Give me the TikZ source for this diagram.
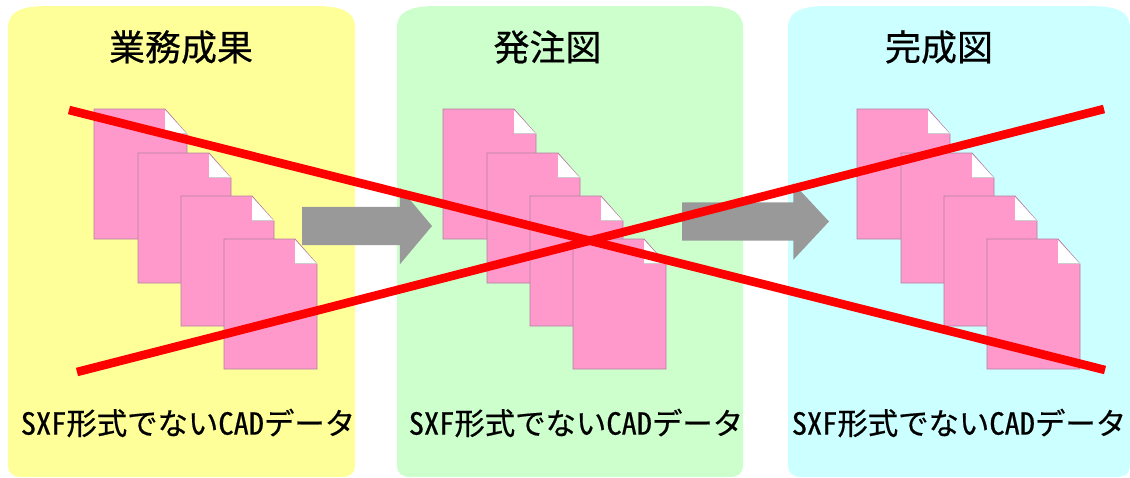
\documentclass[tikz,border=0pt]{standalone}
\usepackage{fontspec}
\usepackage{xcolor}
\usepackage{tikz}
\usetikzlibrary{shapes,arrows,positioning,calc,arrows.meta}
\newfontfamily\jpfont[RawFeature=+hwid, FakeBold=0.5]{Noto Sans CJK JP}
\definecolor{resultbg}{RGB}{255,255,153}
\definecolor{orderbg}{RGB}{204,255,204}
\definecolor{finishbg}{RGB}{204,255,255}
\definecolor{sheetpink}{RGB}{255,153,204}
\definecolor{sheetedge}{RGB}{176,128,160}
\definecolor{flowgray}{RGB}{153,153,153}
\newcommand{\panelbox}[3]{%
  \fill[#3] (#1,28) .. controls (#1,12) and (#1+12,6) .. (#1+40,6) -- (#2-40,6)
    .. controls (#2-12,6) and (#2,12) .. (#2,28) -- (#2,466)
    .. controls (#2,473) and (#2-5,477) .. (#2-13,477) -- (#1+13,477)
    .. controls (#1+5,477) and (#1,473) .. (#1,466) -- cycle;
}
\begin{document}
\begin{tikzpicture}[x=1pt, y=-1pt,
    title/.style={font=\jpfont\fontsize{36}{36}\selectfont, inner sep=0pt},
    caption/.style={font=\jpfont\fontsize{30.4}{30.4}\selectfont, inner sep=0pt},
    flow/.style={shape=single arrow, fill=flowgray, inner xsep=0pt, inner ysep=19pt, minimum height=#1,
      minimum width=76pt, single arrow head extend=19pt, single arrow head indent=0pt, outer sep=0pt, anchor=tip},
    crossline/.style={red, line width=8.6pt},
    docsheet/.pic={
      \fill[sheetpink, draw=sheetedge, line width=0.8pt] (0,0) -- (71,0) -- (93,25) -- (93,130) -- (0,130) -- cycle;
      \fill[white] (71,1) -- (92,24) -- (71,24) -- cycle;
      \draw[black!20, line width=1.5pt] (71,24.5) -- (93,24.5);
    },
    docstack/.pic={
      \pic at (0,0) {docsheet};
      \pic at (44,44) {docsheet};
      \pic at (87,87) {docsheet};
      \pic at (130,130) {docsheet};
    }
]
\useasboundingbox (0,0) rectangle (1130,477);
\panelbox{8}{355}{resultbg}
\panelbox{397}{743}{orderbg}
\panelbox{788}{1130}{finishbg}

\node[title] (resulttitle) at (181,47) {業務成果};
\node[title] (ordertitle) at (547.5,47) {発注図};
\node[title] (finishtitle) at (939,47) {完成図};

\pic at (94,109) {docstack};
\pic at (443,109) {docstack};
\pic at (857,109) {docstack};

\node[flow=130pt, single arrow tip angle=100] (flowa) at (432,226) {};
\node[flow=147pt, single arrow tip angle=94] (flowb) at (829,221.5) {};

\node[caption] (resultcaption) at (188,423) {SXF形式でないCADデータ};
\node[caption] (ordercaption) at (576,423) {SXF形式でないCADデータ};
\node[caption] (finishcaption) at (959,423) {SXF形式でないCADデータ};

\coordinate (downstart) at (69,110);
\coordinate (downend) at (1105,370);
\coordinate (upstart) at (77,372);
\coordinate (upend) at (1104,109);
\draw[crossline] (downstart) -- (downend);
\draw[crossline] (upstart) -- (upend);
\end{tikzpicture}
\end{document}
